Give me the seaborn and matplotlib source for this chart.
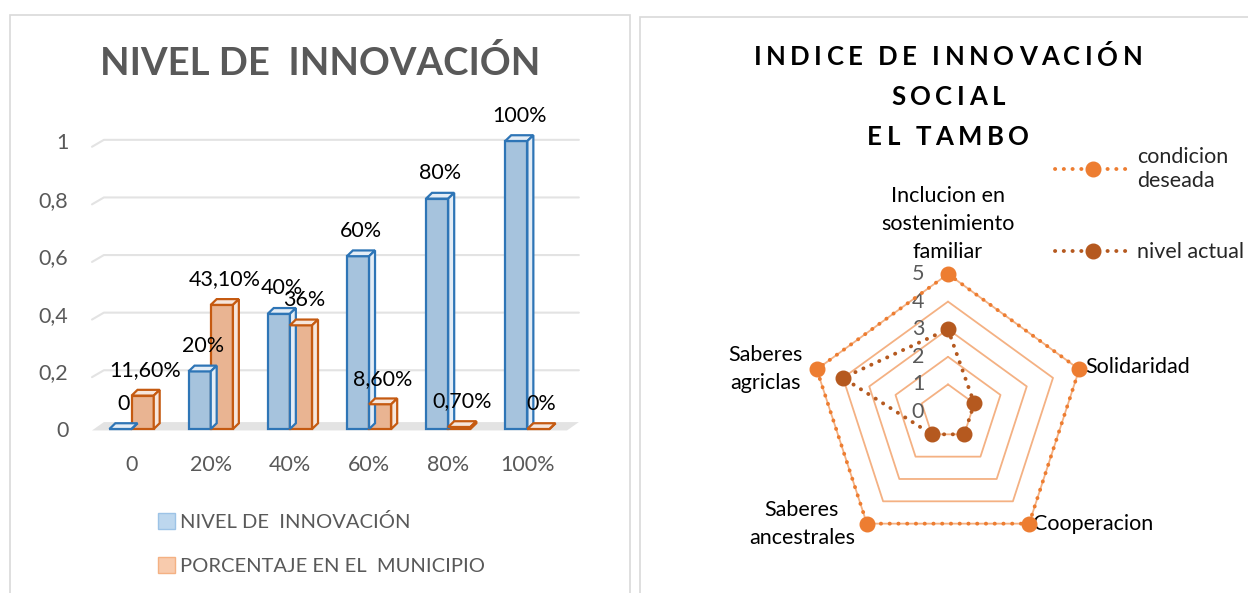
#!/usr/bin/env python3
"""
Nivel de innovacion (barras 3D estilo Excel) + indice de innovacion social (radar)
"""

import numpy as np
import pandas as pd
import matplotlib
matplotlib.use("Agg")
import matplotlib.pyplot as plt
from matplotlib.patches import Polygon, Rectangle, Patch
from matplotlib.lines import Line2D
from matplotlib.transforms import offset_copy
import seaborn as sns

# ---- data: bar chart ----
categorias = ["0", "20%", "40%", "60%", "80%", "100%"]
nivel_innovacion = [0, 0.2, 0.4, 0.6, 0.8, 1.0]
porcentaje_municipio = [0.116, 0.431, 0.36, 0.086, 0.007, 0.0]
etiquetas_nivel = ["0", "20%", "40%", "60%", "80%", "100%"]
etiquetas_municipio = ["11,60%", "43,10%", "36%", "8,60%", "0,70%", "0%"]
series_barras = ["NIVEL DE  INNOVACIÓN", "PORCENTAJE EN EL  MUNICIPIO"]
yticks = [0, 0.2, 0.4, 0.6, 0.8, 1.0]
ytick_labels = ["0", "0,2", "0,4", "0,6", "0,8", "1"]

# ---- data: radar ----
dimensiones = ["Inclucion en\nsostenimiento\nfamiliar", "Solidaridad", "Cooperacion",
               "Saberes\nancestrales", "Saberes\nagriclas"]
condicion_deseada = [5, 5, 5, 5, 5]
nivel_actual = [3, 1, 1, 1, 4]
niveles_radar = [0, 1, 2, 3, 4, 5]
titulo_radar = ["INDICE DE INNOVACIÓN", "SOCIAL", "EL TAMBO"]

BLUE_FILL, BLUE_EDGE = "#9DC3E6", "#2E75B6"
ORANGE_FILL, ORANGE_EDGE = "#F8B183", "#C55A11"
GRAY = "#595959"
FS = 15.5

sns.set_style("white")
plt.rcParams["font.family"] = ["Lato", "DejaVu Sans"]

W, H = 1248, 593
fig = plt.figure(figsize=(W / 100, H / 100), dpi=100)
renderer = fig.canvas.get_renderer()

def fx(px):
    return px / W

def fy(py):
    return 1 - py / H

def spaced_text(s, xc, yc, tracking, **kw):
    """Draw letter-spaced text centred at pixel (xc, yc)."""
    widths = []
    for i in range(len(s) + 1):
        t = fig.text(0, 0, s[:i] if i else "", **kw)
        widths.append(t.get_window_extent(renderer).width if i else 0.0)
        t.remove()
    total = widths[-1] + tracking * (len(s) - 1)
    x0 = xc - total / 2
    for i, ch in enumerate(s):
        if ch == " ":
            continue
        fig.text(fx(x0 + widths[i] + tracking * i), fy(yc), ch, ha="left", va="center", **kw)

# panel borders
fig.add_artist(Rectangle((fx(10), fy(600)), fx(620), fy(15) - fy(600),
                         transform=fig.transFigure, fill=False, edgecolor="#D9D9D9", lw=1.2))
fig.add_artist(Rectangle((fx(640), fy(600)), fx(620), fy(17) - fy(600),
                         transform=fig.transFigure, fill=False, edgecolor="#D9D9D9", lw=1.2))

# ================= left: bar chart =================
ax1 = fig.add_axes([fx(92), fy(429), fx(475), fy(141) - fy(429)])

df = pd.DataFrame({
    "categoria": categorias * 2,
    "valor": nivel_innovacion + porcentaje_municipio,
    "serie": [series_barras[0]] * len(categorias) + [series_barras[1]] * len(categorias),
})

sns.barplot(data=df, x="categoria", y="valor", hue="serie",
            palette=[BLUE_FILL, ORANGE_FILL], width=0.56, gap=0,
            ax=ax1, legend=False, zorder=3)

ax1.set_xlim(-0.5, 5.5)
ax1.set_ylim(0, 1.0)

# light floor and back-wall gridlines
dx, dy = 0.075, 0.02
ax1.add_patch(Polygon([[-0.5, -0.005], [5.5, -0.005], [5.5 + dx * 2, dy * 1.2], [-0.5 + dx * 2, dy * 1.2]],
                      closed=True, facecolor="#E3E3E3", edgecolor="none", zorder=1, clip_on=False))
for yv in yticks[1:]:
    ax1.plot([-0.5, -0.5 + dx * 2, 5.5 + dx * 2], [yv - dy, yv + dy * 0.2, yv + dy * 0.2],
             color="#E3E3E3", lw=1.5, zorder=0, clip_on=False)

edges = [BLUE_EDGE, ORANGE_EDGE]
sides = ["#E4EDF6", "#F6E6DC"]
etiquetas = [etiquetas_nivel, etiquetas_municipio]
for cont, ec, sc, labs in zip(ax1.containers, edges, sides, etiquetas):
    for bar, lab in zip(cont, labs):
        bar.set_edgecolor(ec)
        bar.set_linewidth(1.6)
        bar.set_clip_on(False)
        x0, w, h = bar.get_x(), bar.get_width(), bar.get_height()
        top = [[x0, h], [x0 + w, h], [x0 + w + dx, h + dy], [x0 + dx, h + dy]]
        side = [[x0 + w, 0], [x0 + w + dx, dy], [x0 + w + dx, h + dy], [x0 + w, h]]
        ax1.add_patch(Polygon(top, closed=True, facecolor=sc, edgecolor=ec, lw=1.6, zorder=4, clip_on=False))
        ax1.add_patch(Polygon(side, closed=True, facecolor=sc, edgecolor=ec, lw=1.6, zorder=4, clip_on=False))
        ax1.annotate(lab, (x0 + w / 2 + dx / 2, h + dy), xytext=(0, 7), textcoords="offset points",
                     ha="center", va="bottom", fontsize=FS, color="black", zorder=6,
                     annotation_clip=False)

sns.despine(ax=ax1, left=True, bottom=True)
ax1.set_yticks(yticks)
ax1.set_yticklabels(ytick_labels, color=GRAY, fontsize=FS)
ax1.tick_params(axis="y", length=0, pad=17)
ax1.tick_params(axis="x", length=0, pad=19, labelsize=FS, labelcolor=GRAY)
ax1.set_xlabel("")
ax1.set_ylabel("")
ax1.grid(False)

fig.text(fx(320), fy(63), "NIVEL DE  INNOVACIÓN", ha="center", va="center",
         fontsize=27.5, fontweight="bold", color=GRAY)

leg_handles = [Patch(facecolor="#BDD7EE", edgecolor="#9DC3E6"),
               Patch(facecolor="#F8CBAD", edgecolor="#F4B183")]
fig.legend(leg_handles, series_barras, loc="upper left",
           bbox_to_anchor=(fx(140), fy(495)), frameon=False, fontsize=14.5,
           labelcolor=GRAY, handlelength=0.85, handleheight=0.85, handletextpad=0.25,
           labelspacing=1.3)

# ================= right: radar =================
cx, cy, R = 948, 412, 138
ax2 = fig.add_axes([fx(cx - R), fy(cy + R), fx(2 * R), fy(cy - R) - fy(cy + R)], projection="polar")
ax2.set_theta_offset(np.pi / 2)
ax2.set_theta_direction(-1)
n = len(dimensiones)
ang = np.linspace(0, 2 * np.pi, n, endpoint=False)
ang_c = np.append(ang, ang[0])

for lv in niveles_radar[1:]:
    ax2.plot(ang_c, [lv] * (n + 1), color="#F4B183", lw=1.3, zorder=1, clip_on=False)

rad = pd.DataFrame({"ang": np.append(ang_c, ang_c),
                    "valor": condicion_deseada + condicion_deseada[:1] + nivel_actual + nivel_actual[:1],
                    "serie": ["condicion deseada"] * (n + 1) + ["nivel actual"] * (n + 1)})
colores_radar = {"condicion deseada": "#ED7D31", "nivel actual": "#B5591F"}
for serie, col in colores_radar.items():
    sub = rad[rad["serie"] == serie]
    ax2.plot(sub["ang"], sub["valor"], color=col, lw=2.8, linestyle=(0, (0.05, 2.2)),
             dash_capstyle="round", zorder=3, clip_on=False)
    ax2.plot(sub["ang"].iloc[:-1], sub["valor"].iloc[:-1], "o", color=col, ms=10.5,
             zorder=4, clip_on=False)

ax2.set_ylim(0, 5)
ax2.set_yticks([])
ax2.set_xticks([])
ax2.grid(False)
ax2.spines["polar"].set_visible(False)
ax2.patch.set_alpha(0)

for lv in niveles_radar:
    ax2.text(0, lv, str(lv), transform=offset_copy(ax2.transData, fig=fig, x=-30, y=0, units="dots"),
             ha="center", va="center", fontsize=FS, color=GRAY, zorder=2)

lab_cfg = [(0, 12, "center", "bottom"), (6, 2, "left", "center"), (4, 0, "left", "center"),
           (-12, 0, "right", "center"), (-14, 0, "right", "center")]
for a, name, (ox, oy, ha, va) in zip(ang, dimensiones, lab_cfg):
    ax2.text(a, 5, name, transform=offset_copy(ax2.transData, fig=fig, x=ox, y=oy, units="dots"),
             ha=ha, va=va, multialignment="center", fontsize=FS, color="black", linespacing=1.5)

for linea, yl in zip(titulo_radar, [57, 97, 137]):
    spaced_text(linea, 948, yl, 4.5, fontsize=18.5, fontweight="bold", color="black")

rad_handles = [Line2D([0], [0], color=col, lw=2.8, linestyle=(0, (0.05, 2.2)),
                      dash_capstyle="round", marker="o", ms=10.5)
               for col in colores_radar.values()]
fig.legend(rad_handles, ["condicion\ndeseada", "nivel actual"], loc="upper left",
           bbox_to_anchor=(fx(1036), fy(128)), frameon=False, fontsize=FS,
           handlelength=3.5, handletextpad=0.3, labelspacing=2.4)

fig.savefig("out.png", dpi=100)
